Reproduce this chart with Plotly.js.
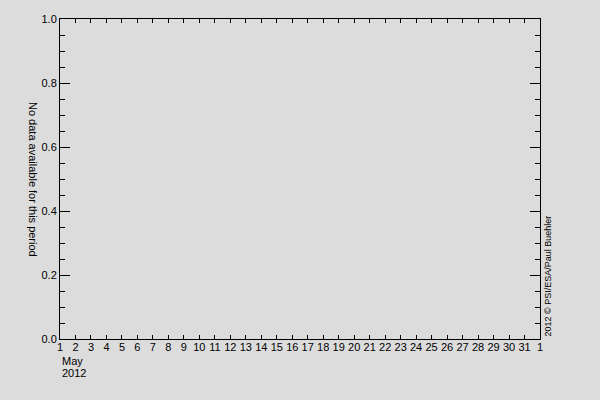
<!DOCTYPE html>
<html>
<head>
<meta charset="utf-8">
<script src="https://cdn.plot.ly/plotly-3.0.1.min.js"></script>
<style>
  html, body { margin: 0; padding: 0; background: #dcdcdc; }
  #chart { width: 600px; height: 400px; }
</style>
</head>
<body>
<div id="chart"></div>
<script>
// no observations in this period: the series is empty
var obsTimes = [];
var obsValues = [];

var dayTicks = ['2012-05-01', '2012-05-02', '2012-05-03', '2012-05-04', '2012-05-05',
  '2012-05-06', '2012-05-07', '2012-05-08', '2012-05-09', '2012-05-10', '2012-05-11',
  '2012-05-12', '2012-05-13', '2012-05-14', '2012-05-15', '2012-05-16', '2012-05-17',
  '2012-05-18', '2012-05-19', '2012-05-20', '2012-05-21', '2012-05-22', '2012-05-23',
  '2012-05-24', '2012-05-25', '2012-05-26', '2012-05-27', '2012-05-28', '2012-05-29',
  '2012-05-30', '2012-05-31', '2012-06-01'];
var dayLabels = ['1', '2', '3', '4', '5', '6', '7', '8', '9', '10', '11', '12', '13',
  '14', '15', '16', '17', '18', '19', '20', '21', '22', '23', '24', '25', '26', '27',
  '28', '29', '30', '31', '1'];
var yTicks = [0.0, 0.2, 0.4, 0.6, 0.8, 1.0];
var yLabels = ['0.0', '0.2', '0.4', '0.6', '0.8', '1.0'];

var monthLabel = 'May';
var yearLabel = '2012';
var message = 'No data available for this period';
var credit = '2012 \u00a9 PSI/ESA/Paul Buehler';

var ink = '#000000';
var fnt = { family: 'Liberation Sans, Arial, sans-serif', size: 11, color: ink };

var traces = [{
  x: obsTimes,
  y: obsValues,
  mode: 'lines',
  type: 'scatter',
  line: { color: ink, width: 1 },
  showlegend: false
}];

var layout = {
  width: 600,
  height: 400,
  paper_bgcolor: '#dcdcdc',
  plot_bgcolor: '#dcdcdc',
  margin: { l: 60, r: 60, t: 19, b: 61 },
  font: fnt,
  showlegend: false,
  xaxis: {
    type: 'date',
    range: [dayTicks[0], dayTicks[dayTicks.length - 1]],
    tickmode: 'array',
    tickvals: dayTicks,
    ticktext: dayLabels,
    ticks: 'inside',
    ticklen: 4,
    tickwidth: 1,
    tickcolor: ink,
    showline: true,
    linecolor: ink,
    linewidth: 1,
    mirror: 'ticks',
    showgrid: false,
    zeroline: false,
    tickangle: 0,
    ticklabelstandoff: -2,
    tickfont: fnt
  },
  yaxis: {
    range: [0, 1],
    tickmode: 'array',
    tickvals: yTicks,
    ticktext: yLabels,
    ticks: 'inside',
    ticklen: 10,
    tickwidth: 1,
    tickcolor: ink,
    minor: { ticks: 'inside', dtick: 0.05, ticklen: 5, tickcolor: ink, tickwidth: 1, showgrid: false },
    showline: true,
    linecolor: ink,
    linewidth: 1,
    mirror: 'ticks',
    showgrid: false,
    zeroline: false,
    tickfont: fnt
  },
  annotations: [
    {
      text: monthLabel,
      xref: 'paper', yref: 'paper',
      x: 0, y: 0,
      xanchor: 'left', yanchor: 'top',
      yshift: -14,
      showarrow: false,
      font: fnt
    },
    {
      text: yearLabel,
      xref: 'paper', yref: 'paper',
      x: 0, y: 0,
      xanchor: 'left', yanchor: 'top',
      yshift: -26,
      showarrow: false,
      font: fnt
    },
    {
      text: message,
      xref: 'paper', yref: 'paper',
      x: 0, y: 0.5,
      xanchor: 'center', yanchor: 'middle',
      xshift: -27,
      textangle: 90,
      showarrow: false,
      font: fnt
    },
    {
      text: credit,
      xref: 'paper', yref: 'paper',
      x: 1, y: 0,
      xanchor: 'center', yanchor: 'bottom',
      xshift: 7,
      textangle: -90,
      showarrow: false,
      font: { family: fnt.family, size: 9, color: ink }
    }
  ]
};

Plotly.newPlot('chart', traces, layout, { displayModeBar: false, staticPlot: true });
</script>
</body>
</html>
